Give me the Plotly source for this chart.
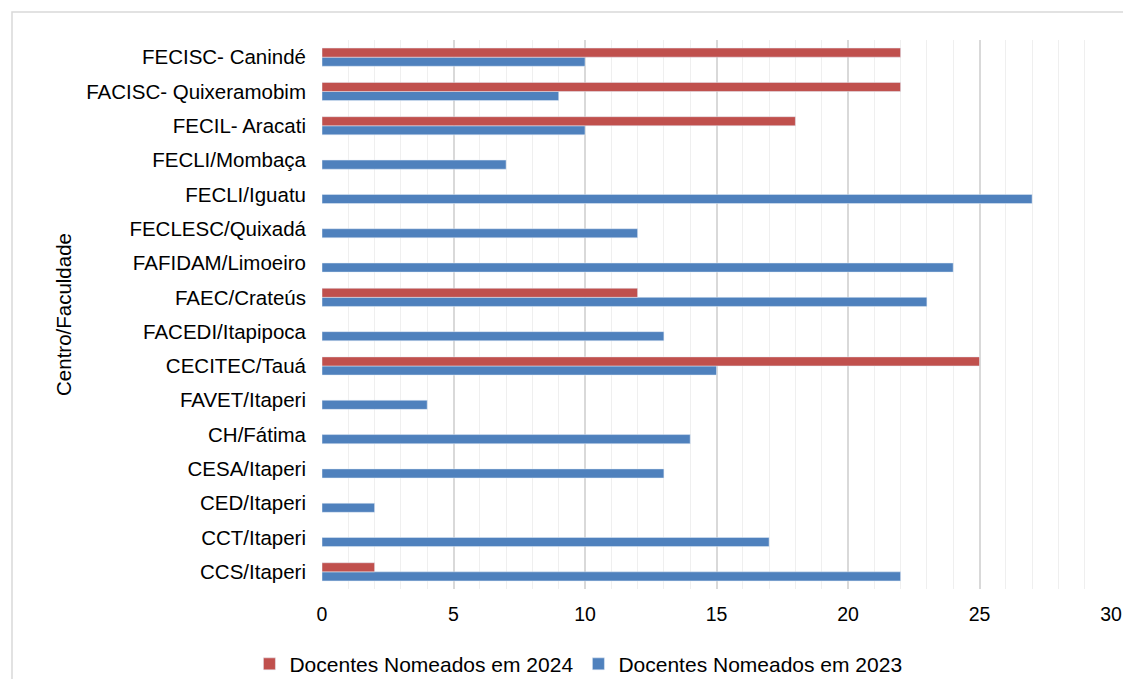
import plotly.graph_objects as go

categories = ["CCS/Itaperi", "CCT/Itaperi", "CED/Itaperi", "CESA/Itaperi", "CH/Fátima",
              "FAVET/Itaperi", "CECITEC/Tauá", "FACEDI/Itapipoca", "FAEC/Crateús",
              "FAFIDAM/Limoeiro", "FECLESC/Quixadá", "FECLI/Iguatu", "FECLI/Mombaça",
              "FECIL- Aracati", "FACISC- Quixeramobim", "FECISC- Canindé"]
docentes_2023 = [22, 17, 2, 13, 14, 4, 15, 13, 23, 24, 12, 27, 7, 10, 9, 10]
docentes_2024 = [2, None, None, None, None, None, 25, None, 12, None, None, None, None, 18, 22, 22]
x_ticks = [0, 5, 10, 15, 20, 25, 30]

W, H = 1115, 671
L, R, T, B = 314, 12, 32, 90
pw, ph = W - L - R, H - T - B

fig = go.Figure()
fig.add_trace(go.Bar(y=categories, x=docentes_2023, orientation="h",
                     name="Docentes Nomeados em 2023", marker_color="#4F81BD"))
fig.add_trace(go.Bar(y=categories, x=docentes_2024, orientation="h",
                     name="Docentes Nomeados em 2024", marker_color="#C0504D"))

fig.update_layout(
    width=W, height=H,
    paper_bgcolor="white", plot_bgcolor="white",
    barmode="group", bargap=0.47, bargroupgap=0,
    margin=dict(l=L, r=R, t=T, b=B, autoexpand=False),
    font=dict(family="Liberation Sans, Arial, sans-serif", size=20, color="#000000"),
    legend=dict(orientation="h", x=0.325, xanchor="center", y=-0.137, yanchor="middle",
                traceorder="reversed", font=dict(size=21), itemwidth=30),
    showlegend=True,
)
fig.update_xaxes(range=[0, 30], tickvals=x_ticks, showgrid=True, gridcolor="#D9D9D9",
                 gridwidth=1.5, zeroline=False, showline=False, ticks="",
                 ticklabelstandoff=11, tickfont=dict(size=19.5), ticklabeloverflow="allow",
                 minor=dict(dtick=1, showgrid=True, gridcolor="#EFEFEF", gridwidth=1))
fig.update_yaxes(categoryorder="array", categoryarray=categories, showgrid=False,
                 showline=False, ticks="", ticklabelstandoff=15, tickfont=dict(size=20.5),
                 title=dict(text="Centro/Faculdade", standoff=8, font=dict(size=20.5)))
fig.add_shape(type="rect", xref="paper", yref="paper",
              x0=-(L - 4) / pw, x1=1.05, y0=-0.3, y1=1 + (T - 4) / ph,
              line=dict(color="#D9D9D9", width=1.5), fillcolor="rgba(0,0,0,0)", layer="below")

fig.write_html("out.html")
